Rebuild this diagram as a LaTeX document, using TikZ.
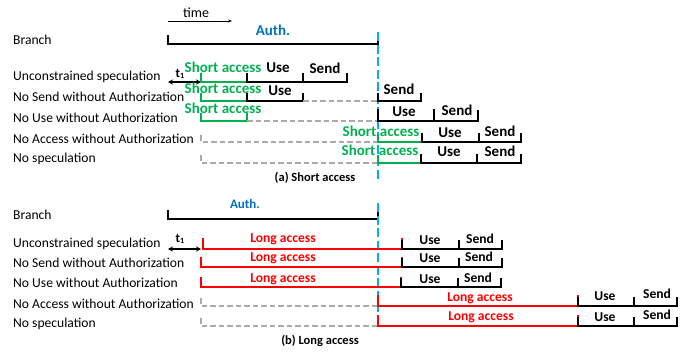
\documentclass[tikz,border=0pt]{standalone}
\usepackage{fontspec}
\setmainfont{Carlito}
\usetikzlibrary{arrows.meta}
\definecolor{agreen}{RGB}{0,176,80}
\definecolor{ared}{RGB}{255,0,0}
\definecolor{ablue}{RGB}{0,112,192}
\definecolor{lblue}{RGB}{0,176,240}
\definecolor{agray}{RGB}{170,170,170}
\newcommand\myseg[5][black]{\draw[segline,#1] (#2,#4-#5) -- (#2,#4) -- (#3,#4) -- (#3,#4-#5);}
\newcommand\mygapt[4]{\draw[gapline] (#1,#3-#4) -- (#1,#3) -- (#2,#3);}
\newcommand\mygap[3]{\draw[gapline] (#1,#3) -- (#2,#3);}
\newcommand\mysub[1]{t\raisebox{-1.5pt}{\fontsize{8}{8}\selectfont #1}}
\tikzset{
  segline/.style={line width=1.5pt},
  gapline/.style={agray, line width=1.4pt, dash pattern=on 5.5pt off 3pt},
  authline/.style={lblue, line width=1.4pt, dash pattern=on 9pt off 3.5pt},
  lbl/.style={anchor=base west, inner sep=0pt, font=\fontsize{13.6}{16}\selectfont},
  bigA/.style={anchor=base, inner sep=0pt, font=\fontsize{15}{18}\selectfont\bfseries},
  bigB/.style={anchor=base, inner sep=0pt, font=\fontsize{13.6}{16}\selectfont\bfseries},
  capt/.style={anchor=base, inner sep=0pt, font=\fontsize{12.5}{15}\selectfont\bfseries},
  tlab/.style={anchor=base, inner sep=0pt, font=\fontsize{13}{15}\selectfont\bfseries},
  tarrow/.style={line width=1.2pt, {Stealth[length=5pt,width=5pt]}-{Stealth[length=5pt,width=5pt]}},
}
\begin{document}
\begin{tikzpicture}[x=1pt,y=-1pt]
\useasboundingbox (0,0) rectangle (694,356);
% ---------- time arrow
\node[anchor=base, inner sep=0pt, font=\fontsize{14}{16}\selectfont] (time) at (196,17) {time};
\coordinate (ts) at (168,21); \coordinate (te) at (232,21);
\draw[line width=0.8pt, -{Stealth[length=4pt,width=3pt]}] (ts) -- (te);

% ================= (a) Short access =================
\node[lbl] (la0) at (13,45) {Branch};
\node[lbl] (la1) at (13,80) {Unconstrained speculation};
\node[lbl] (la2) at (13,101) {No Send without Authorization};
\node[lbl] (la3) at (13,122) {No Use without Authorization};
\node[lbl] (la4) at (13,143) {No Access without Authorization};
\node[lbl] (la5) at (13,162) {No speculation};

\node[bigA, text=ablue] (autha) at (273,35) {Auth.};
\myseg{168}{378}{44}{9}
\draw[authline] (378,32) -- (378,182);

% t1
\coordinate (ta1) at (168,82); \coordinate (ta2) at (201,82);
\draw[tarrow] (ta1) -- (ta2);
\node[tlab] (t1a) at (180,77) {\mysub{1}};

% row 1
\myseg[agreen]{201}{247}{82}{9}
\myseg{247}{303}{82}{9}
\myseg{303}{347}{82}{9}
\node[bigA, text=agreen] (sa1) at (223,72) {Short access};
\node[bigA] (ua1) at (278,72) {Use};
\node[bigA] (na1) at (325,73) {Send};
% row 2
\myseg[agreen]{201}{247}{101}{8}
\myseg{247}{303}{101}{8}
\mygap{303}{378}{101}
\myseg{378}{421}{101}{8}
\node[bigA, text=agreen] (sa2) at (223,93) {Short access};
\node[bigA] (ua2) at (280,95) {Use};
\node[bigA] (na2) at (399,94) {Send};
% row 3
\myseg[agreen]{201}{247}{121}{8}
\mygap{247}{378}{121}
\myseg{378}{434}{121}{12}
\myseg{434}{478}{121}{11}
\node[bigA, text=agreen] (sa3) at (223,113) {Short access};
\node[bigA] (ua3) at (404,116) {Use};
\node[bigA] (na3) at (457,115) {Send};
% row 4
\mygapt{201}{378}{142}{7}
\myseg[agreen]{378}{422}{142}{8}
\myseg{422}{479}{142}{9}
\myseg{479}{521}{142}{9}
\node[bigA, text=agreen] (sa4) at (381,136) {Short access};
\node[bigA] (ua4) at (450,137) {Use};
\node[bigA] (na4) at (500,136) {Send};
% row 5
\mygapt{201}{378}{163}{8}
\myseg[agreen]{378}{421}{163}{8}
\myseg{421}{477}{163}{9}
\myseg{477}{521}{163}{9}
\node[bigA, text=agreen] (sa5) at (380,155) {Short access};
\node[bigA] (ua5) at (449,156) {Use};
\node[bigA] (na5) at (500,156) {Send};

\node[capt] (capa) at (315,181) {(a) Short access};

% ================= (b) Long access =================
\node[lbl] (lb0) at (13,219) {Branch};
\node[lbl] (lb1) at (13,247) {Unconstrained speculation};
\node[lbl] (lb2) at (13,267) {No Send without Authorization};
\node[lbl] (lb3) at (13,287) {No Use without Authorization};
\node[lbl] (lb4) at (13,308) {No Access without Authorization};
\node[lbl] (lb5) at (13,327) {No speculation};

\node[anchor=base, inner sep=0pt, font=\fontsize{13}{15}\selectfont\bfseries, text=ablue] (authb) at (245,208) {Auth.};
\myseg{168}{378}{219}{9}
\draw[authline] (378,203) -- (378,328);

\coordinate (tb1) at (168,249); \coordinate (tb2) at (201,249);
\draw[tarrow] (tb1) -- (tb2);
\node[tlab] (t1b) at (180,242) {\mysub{1}};

% row 1
\myseg[ared]{203}{402}{249}{11}
\myseg{402}{459}{249}{9}
\myseg{459}{502}{249}{9}
\node[bigB, text=ared] (sb1) at (283,242) {Long access};
\node[bigB] (ub1) at (430,244) {Use};
\node[bigB] (nb1) at (480,243) {Send};
% row 2
\myseg[ared]{201}{402}{267}{10}
\myseg{402}{459}{267}{9}
\myseg{459}{502}{267}{9}
\node[bigB, text=ared] (sb2) at (283,261) {Long access};
\node[bigB] (ub2) at (430,262) {Use};
\node[bigB] (nb2) at (479,261) {Send};
% row 3
\myseg[ared]{201}{401}{287}{10}
\myseg{401}{458}{287}{9}
\myseg{458}{501}{287}{9}
\node[bigB, text=ared] (sb3) at (283,282) {Long access};
\node[bigB] (ub3) at (430,283) {Use};
\node[bigB] (nb3) at (478,282) {Send};
% row 4
\mygapt{201}{378}{306}{8}
\myseg[ared]{378}{578}{306}{11}
\myseg{578}{634}{306}{9}
\myseg{634}{677}{306}{9}
\node[bigB, text=ared] (sb4) at (480,301) {Long access};
\node[bigB] (ub4) at (605,300) {Use};
\node[bigB] (nb4) at (657,298) {Send};
% row 5
\mygapt{201}{378}{326}{8}
\myseg[ared]{378}{578}{326}{11}
\myseg{578}{634}{326}{9}
\myseg{634}{677}{326}{9}
\node[bigB, text=ared] (sb5) at (481,320) {Long access};
\node[bigB] (ub5) at (605,321) {Use};
\node[bigB] (nb5) at (657,319) {Send};

\node[capt] (capb) at (320,344) {(b) Long access};
\end{tikzpicture}
\end{document}
